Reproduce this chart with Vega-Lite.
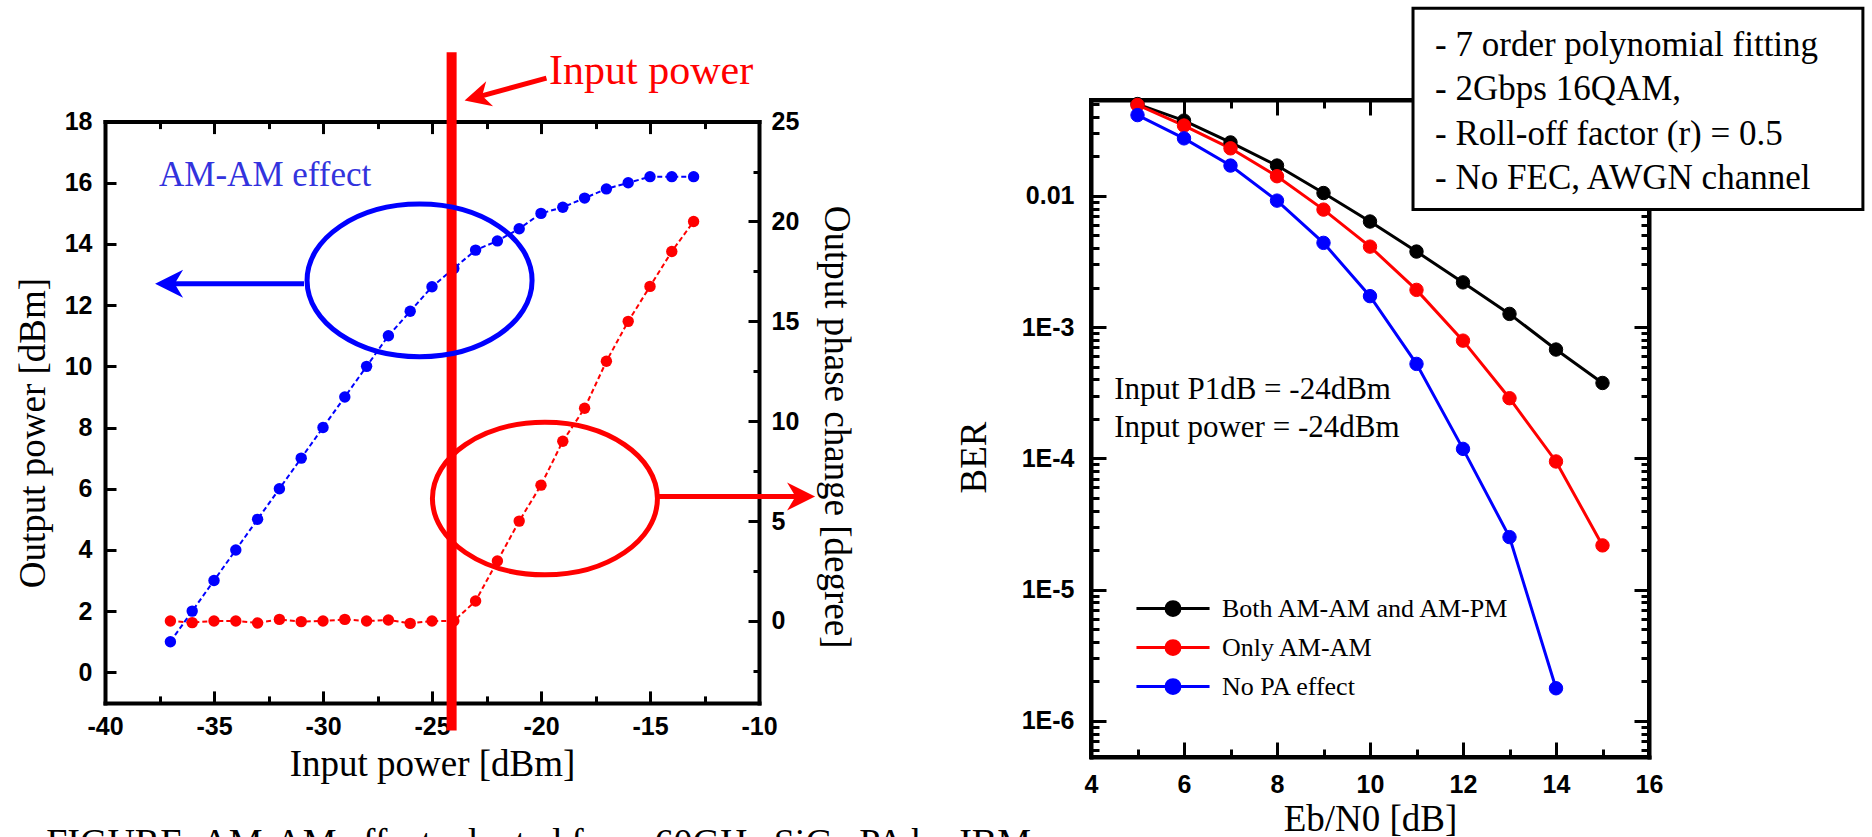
{
  "$schema": "https://vega.github.io/schema/vega-lite/v6.json",
  "background": "white",
  "padding": {"left": 14, "top": 4, "right": 0, "bottom": 0},
  "spacing": 98,
  "columns": 2,
  "title": {"text": "FIGURE: AM-AM effect adopted from 60GHz SiGe PA by IBM", "orient": "bottom", "anchor": "start", "frame": "bounds", "offset": -14, "dx": 32, "font": "Liberation Serif", "fontSize": 38, "fontWeight": "normal", "color": "black", "baseline": "top"},
  "config": {
    "view": {"stroke": "black", "strokeWidth": 4},
    "axis": {"domainColor": "black", "domainWidth": 4, "domainCap": "square", "tickColor": "black", "tickWidth": 3, "grid": false, "labelFont": "Liberation Sans", "labelFontSize": 25, "labelFontWeight": "bold", "labelColor": "black", "titleFont": "Liberation Serif", "titleFontSize": 37, "titleFontWeight": "normal", "titleColor": "black", "labelOverlap": false, "labelFlush": false, "labelBound": false},
    "legend": {"orient": "none", "legendX": 1055, "legendY": 495.6, "symbolType": "M-4.3,0L4.3,0M-0.82,0A0.82,0.82,0,1,0,0.82,0A0.82,0.82,0,1,0,-0.82,0Z", "symbolSize": 289, "symbolStrokeWidth": 3, "labelFont": "Liberation Serif", "labelFontSize": 26, "labelColor": "black", "labelOffset": 36, "labelLimit": 500, "rowPadding": 13, "padding": 0, "symbolOpacity": 1},
    "text": {"font": "Liberation Serif"}
  },
  "datasets": {
    "amam": [
      {"pin": -37, "pout": 1.0}, {"pin": -36, "pout": 2.0}, {"pin": -35, "pout": 3.0}, {"pin": -34, "pout": 4.0},
      {"pin": -33, "pout": 5.0}, {"pin": -32, "pout": 6.0}, {"pin": -31, "pout": 7.0}, {"pin": -30, "pout": 8.0},
      {"pin": -29, "pout": 9.0}, {"pin": -28, "pout": 10.0}, {"pin": -27, "pout": 11.0}, {"pin": -26, "pout": 11.8},
      {"pin": -25, "pout": 12.6}, {"pin": -24, "pout": 13.2}, {"pin": -23, "pout": 13.8}, {"pin": -22, "pout": 14.1},
      {"pin": -21, "pout": 14.5}, {"pin": -20, "pout": 15.0}, {"pin": -19, "pout": 15.2}, {"pin": -18, "pout": 15.5},
      {"pin": -17, "pout": 15.8}, {"pin": -16, "pout": 16.0}, {"pin": -15, "pout": 16.2}, {"pin": -14, "pout": 16.2},
      {"pin": -13, "pout": 16.2}
    ],
    "ampm": [
      {"pin": -37, "phase": 0}, {"pin": -36, "phase": -0.08}, {"pin": -35, "phase": 0}, {"pin": -34, "phase": 0},
      {"pin": -33, "phase": -0.1}, {"pin": -32, "phase": 0.08}, {"pin": -31, "phase": -0.03}, {"pin": -30, "phase": 0},
      {"pin": -29, "phase": 0.08}, {"pin": -28, "phase": 0}, {"pin": -27, "phase": 0.05}, {"pin": -26, "phase": -0.12},
      {"pin": -25, "phase": 0}, {"pin": -24, "phase": 0}, {"pin": -23, "phase": 1.0}, {"pin": -22, "phase": 3.0},
      {"pin": -21, "phase": 5.0}, {"pin": -20, "phase": 6.8}, {"pin": -19, "phase": 9.0}, {"pin": -18, "phase": 10.65},
      {"pin": -17, "phase": 13.0}, {"pin": -16, "phase": 15.0}, {"pin": -15, "phase": 16.75}, {"pin": -14, "phase": 18.5},
      {"pin": -13, "phase": 20.0}
    ],
    "ber": [
      {"ebn0": 5, "ber": 0.050, "case": "Both AM-AM and AM-PM"},
      {"ebn0": 6, "ber": 0.0374, "case": "Both AM-AM and AM-PM"},
      {"ebn0": 7, "ber": 0.0255, "case": "Both AM-AM and AM-PM"},
      {"ebn0": 8, "ber": 0.0170, "case": "Both AM-AM and AM-PM"},
      {"ebn0": 9, "ber": 0.0105, "case": "Both AM-AM and AM-PM"},
      {"ebn0": 10, "ber": 0.00637, "case": "Both AM-AM and AM-PM"},
      {"ebn0": 11, "ber": 0.00376, "case": "Both AM-AM and AM-PM"},
      {"ebn0": 12, "ber": 0.00219, "case": "Both AM-AM and AM-PM"},
      {"ebn0": 13, "ber": 0.00126, "case": "Both AM-AM and AM-PM"},
      {"ebn0": 14, "ber": 0.000674, "case": "Both AM-AM and AM-PM"},
      {"ebn0": 15, "ber": 0.000375, "case": "Both AM-AM and AM-PM"},
      {"ebn0": 5, "ber": 0.0492, "case": "Only AM-AM"},
      {"ebn0": 6, "ber": 0.0343, "case": "Only AM-AM"},
      {"ebn0": 7, "ber": 0.0230, "case": "Only AM-AM"},
      {"ebn0": 8, "ber": 0.0141, "case": "Only AM-AM"},
      {"ebn0": 9, "ber": 0.00785, "case": "Only AM-AM"},
      {"ebn0": 10, "ber": 0.0041, "case": "Only AM-AM"},
      {"ebn0": 11, "ber": 0.00192, "case": "Only AM-AM"},
      {"ebn0": 12, "ber": 0.000788, "case": "Only AM-AM"},
      {"ebn0": 13, "ber": 0.000287, "case": "Only AM-AM"},
      {"ebn0": 14, "ber": 0.0000946, "case": "Only AM-AM"},
      {"ebn0": 15, "ber": 0.0000217, "case": "Only AM-AM"},
      {"ebn0": 5, "ber": 0.0412, "case": "No PA effect"},
      {"ebn0": 6, "ber": 0.0274, "case": "No PA effect"},
      {"ebn0": 7, "ber": 0.0170, "case": "No PA effect"},
      {"ebn0": 8, "ber": 0.00919, "case": "No PA effect"},
      {"ebn0": 9, "ber": 0.00438, "case": "No PA effect"},
      {"ebn0": 10, "ber": 0.00172, "case": "No PA effect"},
      {"ebn0": 11, "ber": 0.000524, "case": "No PA effect"},
      {"ebn0": 12, "ber": 0.000118, "case": "No PA effect"},
      {"ebn0": 13, "ber": 0.0000251, "case": "No PA effect"},
      {"ebn0": 14, "ber": 0.00000177, "case": "No PA effect"}
    ]
  },
  "concat": [
    {
      "width": 654,
      "height": 602.9,
      "view": {"stroke": null},
      "resolve": {"scale": {"y": "independent"}, "axis": {"x": "independent"}},
      "layer": [
        {
          "layer": [
            {
              "data": {"name": "ampm"},
              "mark": {"type": "line", "color": "#ff0000", "strokeWidth": 2, "strokeDash": [5, 3]},
              "encoding": {
                "x": {"field": "pin", "type": "quantitative", "scale": {"domain": [-40, -10], "nice": false, "zero": false},
                  "axis": {"orient": "top", "offset": -21.6, "title": null, "labels": false, "values": [-40, -37.5, -35, -32.5, -30, -27.5, -25, -22.5, -20, -17.5, -15, -12.5, -10],
                    "tickSize": {"condition": {"test": "datum.value % 5 === 0", "value": -12}, "value": -7}}},
                "y": {"field": "phase", "type": "quantitative", "scale": {"domain": [-4.1, 25], "range": [602.9, 21.6], "nice": false, "zero": false},
                  "axis": {"orient": "right", "title": "Output phase change [degree]", "values": [-2.5, 0, 2.5, 5, 7.5, 10, 12.5, 15, 17.5, 20, 22.5, 25],
                    "labelExpr": "datum.value % 5 === 0 ? '' + datum.value : ''",
                    "tickSize": {"condition": {"test": "datum.value % 5 === 0", "value": -11}, "value": -6},
                    "labelPadding": 23, "titlePadding": 18, "titleY": 326.6}}
              }
            },
            {
              "data": {"name": "ampm"},
              "mark": {"type": "circle", "color": "#ff0000", "size": 130, "opacity": 1},
              "encoding": {
                "x": {"field": "pin", "type": "quantitative"},
                "y": {"field": "phase", "type": "quantitative"}
              }
            }
          ]
        },
        {
          "layer": [
            {
              "data": {"name": "amam"},
              "mark": {"type": "line", "color": "#0000ff", "strokeWidth": 2, "strokeDash": [5, 3]},
              "encoding": {
                "x": {"field": "pin", "type": "quantitative", "scale": {"domain": [-40, -10], "nice": false, "zero": false},
                  "axis": {"orient": "bottom", "title": "Input power [dBm]", "values": [-40, -37.5, -35, -32.5, -30, -27.5, -25, -22.5, -20, -17.5, -15, -12.5, -10],
                    "labelExpr": "datum.value % 5 === 0 ? '' + datum.value : ''",
                    "tickSize": {"condition": {"test": "datum.value % 5 === 0", "value": -12}, "value": -7},
                    "labelPadding": 24, "titlePadding": 2}},
                "y": {"field": "pout", "type": "quantitative", "scale": {"domain": [-1, 18], "range": [602.9, 21.6], "nice": false, "zero": false},
                  "axis": {"orient": "left", "title": "Output power [dBm]", "values": [0, 1, 2, 3, 4, 5, 6, 7, 8, 9, 10, 11, 12, 13, 14, 15, 16, 17, 18],
                    "labelExpr": "datum.value % 2 === 0 ? '' + datum.value : ''",
                    "tickSize": {"condition": {"test": "datum.value % 2 === 0", "value": -11}, "value": -6},
                    "labelPadding": 24, "titlePadding": 12, "titleY": 332.6}}
              }
            },
            {
              "data": {"name": "amam"},
              "mark": {"type": "circle", "color": "#0000ff", "size": 130, "opacity": 1},
              "encoding": {
                "x": {"field": "pin", "type": "quantitative"},
                "y": {"field": "pout", "type": "quantitative"}
              }
            },
            {
              "data": {"values": [{}]},
              "mark": {"type": "rule", "color": "#ff0000", "strokeWidth": 10},
              "encoding": {"x": {"datum": -24.1}, "y": {"datum": 20.27}, "y2": {"datum": -1.905}}
            },
            {
              "data": {"values": [{}]},
              "mark": {"type": "text", "text": "Input power", "color": "#ff0000", "font": "Liberation Serif", "fontSize": 42, "align": "left", "baseline": "alphabetic"},
              "encoding": {"x": {"datum": -19.63}, "y": {"datum": 19.22}}
            },
            {
              "data": {"values": [{}]},
              "mark": {"type": "rule", "color": "#ff0000", "strokeWidth": 5},
              "encoding": {"x": {"datum": -19.75}, "y": {"datum": 19.42}, "x2": {"datum": -22.93}, "y2": {"datum": 18.8}}
            },
            {
              "data": {"values": [{}]},
              "mark": {"type": "point", "shape": "M-1,0L1,-1L0.4,0L1,1Z", "size": 676, "angle": 344.6, "filled": true, "color": "#ff0000", "opacity": 1},
              "encoding": {"x": {"datum": -22.93}, "y": {"datum": 18.8}}
            },
            {
              "data": {"values": [{}]},
              "mark": {"type": "text", "text": "AM-AM effect", "color": "#3333dd", "font": "Liberation Serif", "fontSize": 35, "align": "left", "baseline": "alphabetic"},
              "encoding": {"x": {"datum": -37.52}, "y": {"datum": 15.91}}
            },
            {
              "data": {"values": [{}]},
              "mark": {"type": "point", "shape": "M-1,0A1,0.678,0,1,1,1,0A1,0.678,0,1,1,-1,0Z", "size": 50625, "filled": false, "strokeWidth": 5, "color": "#0000ff", "opacity": 1},
              "encoding": {"x": {"datum": -25.57}, "y": {"datum": 12.81}}
            },
            {
              "data": {"values": [{}]},
              "mark": {"type": "point", "shape": "M-1,0A1,0.678,0,1,1,1,0A1,0.678,0,1,1,-1,0Z", "size": 50625, "filled": false, "strokeWidth": 5, "color": "#ff0000", "opacity": 1},
              "encoding": {"x": {"datum": -19.82}, "y": {"datum": 5.68}}
            },
            {
              "data": {"values": [{}]},
              "mark": {"type": "rule", "color": "#0000ff", "strokeWidth": 5},
              "encoding": {"x": {"datum": -30.87}, "x2": {"datum": -37.06}, "y": {"datum": 12.7}}
            },
            {
              "data": {"values": [{}]},
              "mark": {"type": "point", "shape": "M-1,0L1,-1L0.4,0L1,1Z", "size": 784, "filled": true, "color": "#0000ff", "opacity": 1},
              "encoding": {"x": {"datum": -37.06}, "y": {"datum": 12.7}}
            },
            {
              "data": {"values": [{}]},
              "mark": {"type": "rule", "color": "#ff0000", "strokeWidth": 5},
              "encoding": {"x": {"datum": -14.59}, "x2": {"datum": -8.07}, "y": {"datum": 5.747}}
            },
            {
              "data": {"values": [{}]},
              "mark": {"type": "point", "shape": "M-1,0L1,-1L0.4,0L1,1Z", "size": 784, "angle": 180, "filled": true, "color": "#ff0000", "opacity": 1},
              "encoding": {"x": {"datum": -8.07}, "y": {"datum": 5.747}}
            }
          ]
        }
      ]
    },
    {
      "width": 558,
      "height": 657,
      "resolve": {"axis": {"x": "independent", "y": "independent"}},
      "layer": [
        {
          "layer": [
            {
              "data": {"name": "ber"},
              "mark": {"type": "line", "strokeWidth": 3},
              "encoding": {
                "x": {"field": "ebn0", "type": "quantitative", "scale": {"domain": [4, 16], "nice": false, "zero": false},
                  "axis": {"orient": "bottom", "title": "Eb/N0 [dB]", "values": [4, 5, 6, 7, 8, 9, 10, 11, 12, 13, 14, 15, 16],
                    "labelExpr": "datum.value % 2 === 0 ? '' + datum.value : ''",
                    "tickSize": {"condition": {"test": "datum.value % 2 === 0", "value": -15}, "value": -8},
                    "labelPadding": 30, "titlePadding": -3}},
                "y": {"field": "ber", "type": "quantitative", "scale": {"type": "log", "domain": [5.3e-7, 0.0537], "nice": false},
                  "axis": {"orient": "left", "title": "BER",
                    "values": [6e-7, 7e-7, 8e-7, 9e-7, 1e-6, 2e-6, 3e-6, 4e-6, 5e-6, 6e-6, 7e-6, 8e-6, 9e-6, 1e-5, 2e-5, 3e-5, 4e-5, 5e-5, 6e-5, 7e-5, 8e-5, 9e-5, 1e-4, 2e-4, 3e-4, 4e-4, 5e-4, 6e-4, 7e-4, 8e-4, 9e-4, 0.001, 0.002, 0.003, 0.004, 0.005, 0.006, 0.007, 0.008, 0.009, 0.01, 0.02, 0.03, 0.04, 0.05],
                    "labelExpr": "abs(log(datum.value)/LN10 - round(log(datum.value)/LN10)) < 0.001 ? (datum.value > 0.005 ? '0.01' : '1E' + round(log(datum.value)/LN10)) : ''",
                    "tickSize": {"condition": {"test": "abs(log(datum.value)/LN10 - round(log(datum.value)/LN10)) < 0.001", "value": -15}, "value": -8},
                    "labelPadding": 32, "titlePadding": 28, "titleY": 357}},
                "stroke": {"field": "case", "type": "nominal", "title": null,
                  "scale": {"domain": ["Both AM-AM and AM-PM", "Only AM-AM", "No PA effect"], "range": ["#000000", "#ff0000", "#0000ff"]}}
              }
            },
            {
              "data": {"name": "ber"},
              "mark": {"type": "point", "shape": "circle", "filled": true, "size": 180, "opacity": 1, "strokeWidth": 1},
              "encoding": {
                "x": {"field": "ebn0", "type": "quantitative"},
                "y": {"field": "ber", "type": "quantitative"},
                "fill": {"field": "case", "type": "nominal", "title": null,
                  "scale": {"domain": ["Both AM-AM and AM-PM", "Only AM-AM", "No PA effect"], "range": ["#000000", "#ff0000", "#0000ff"]}},
                "stroke": {"field": "case", "type": "nominal", "title": null}
              }
            },
            {
              "data": {"values": [{}]},
              "mark": {"type": "text", "text": ["Input P1dB = -24dBm", "Input power = -24dBm"], "lineHeight": 38.3, "color": "black", "font": "Liberation Serif", "fontSize": 31, "align": "left", "baseline": "alphabetic"},
              "encoding": {"x": {"datum": 4.5}, "y": {"datum": 0.000283}}
            }
          ]
        },
        {
          "layer": [
            {
              "data": {"values": [{}]},
              "mark": {"type": "rect", "fill": "white", "stroke": "black", "strokeWidth": 3},
              "encoding": {
                "x": {"datum": 10.925, "type": "quantitative", "scale": {"domain": [4, 16], "nice": false, "zero": false},
                  "axis": {"orient": "top", "title": null, "labels": false, "values": [4, 5, 6, 7, 8, 9, 10, 11, 12, 13, 14, 15, 16],
                    "tickSize": {"condition": {"test": "datum.value % 2 === 0", "value": -15}, "value": -8}}},
                "x2": {"datum": 20.6},
                "y": {"datum": 0.268, "type": "quantitative", "scale": {"type": "log", "domain": [5.3e-7, 0.0537], "nice": false},
                  "axis": {"orient": "right", "title": null, "labels": false,
                    "values": [6e-7, 7e-7, 8e-7, 9e-7, 1e-6, 2e-6, 3e-6, 4e-6, 5e-6, 6e-6, 7e-6, 8e-6, 9e-6, 1e-5, 2e-5, 3e-5, 4e-5, 5e-5, 6e-5, 7e-5, 8e-5, 9e-5, 1e-4, 2e-4, 3e-4, 4e-4, 5e-4, 6e-4, 7e-4, 8e-4, 9e-4, 0.001, 0.002, 0.003, 0.004, 0.005, 0.006, 0.007, 0.008, 0.009, 0.01, 0.02, 0.03, 0.04, 0.05],
                    "tickSize": {"condition": {"test": "abs(log(datum.value)/LN10 - round(log(datum.value)/LN10)) < 0.001", "value": -15}, "value": -8}}},
                "y2": {"datum": 0.00785}
              }
            },
            {
              "data": {"values": [{}]},
              "mark": {"type": "text", "text": ["- 7 order polynomial fitting", "- 2Gbps 16QAM,", "- Roll-off factor (r) = 0.5", "- No FEC, AWGN channel"], "lineHeight": 44.5, "color": "black", "font": "Liberation Serif", "fontSize": 35, "align": "left", "baseline": "alphabetic"},
              "encoding": {"x": {"datum": 11.4}, "y": {"datum": 0.117}}
            }
          ]
        }
      ]
    }
  ]
}
